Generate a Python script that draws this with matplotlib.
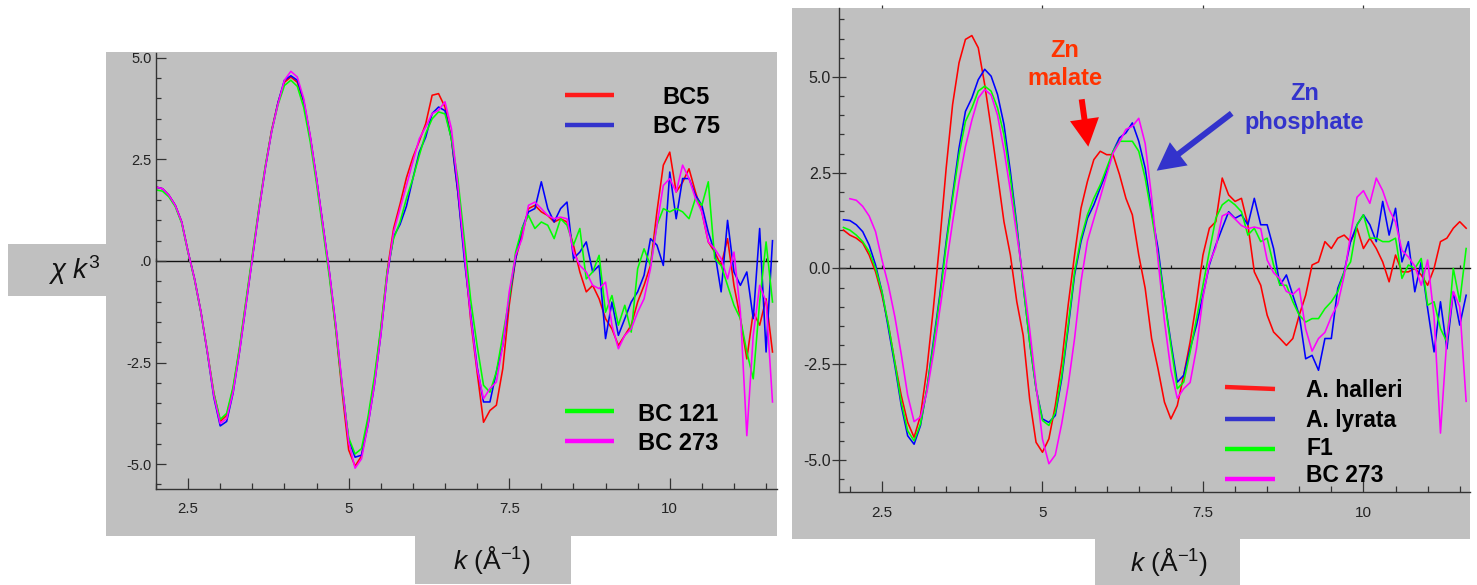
import numpy as np
import matplotlib
matplotlib.use('Agg')
import matplotlib.pyplot as plt
from matplotlib.patches import Rectangle, FancyArrowPatch
from matplotlib.lines import Line2D
from matplotlib.ticker import MultipleLocator

plt.rcParams['font.family'] = ['Liberation Sans', 'DejaVu Sans']
plt.rcParams['mathtext.fontset'] = 'custom'
plt.rcParams['mathtext.rm'] = 'Liberation Sans'
plt.rcParams['mathtext.it'] = 'Liberation Sans:italic'
plt.rcParams['mathtext.bf'] = 'Liberation Sans:bold'

# ---------------- data ----------------
k_left = np.round(np.arange(20, 117) / 10.0, 1)     # 2.0 .. 11.6
k_right = np.round(np.arange(19, 117) / 10.0, 1)    # 1.9 .. 11.6

bc273 = [
    1.82, 1.78, 1.62, 1.37, 0.96, 0.22, -0.44, -1.26, -2.24, -3.31,
    -4.00, -3.88, -3.23, -2.24, -1.09, 0.06, 1.21, 2.27, 3.18, 3.87,
    4.45, 4.67, 4.53, 4.00, 3.10, 2.03, 0.88, -0.27, -1.58, -3.06,
    -4.46, -5.10, -4.87, -4.05, -3.06, -1.83, -0.35, 0.71, 1.29, 1.86,
    2.44, 3.01, 3.30, 3.63, 3.71, 3.92, 3.26, 1.86, 0.22, -1.38,
    -2.65, -3.39, -3.14, -2.98, -2.08, -0.76, 0.14, 0.55, 1.37, 1.45,
    1.29, 1.12, 1.04, 1.08, 1.04, 0.22, -0.11, -0.27, -0.60, -0.68,
    -0.52, -1.58, -2.16, -1.83, -1.67, -1.26, -0.93, -0.19, 0.88, 1.86,
    2.03, 1.70, 2.36, 2.03, 1.54, 1.21, 0.47, 0.30, 0.06, -0.44,
    0.22, -1.26, -4.30, -1.83, -0.60, -1.00, -3.47]

bc5 = [
    1.82, 1.78, 1.62, 1.37, 0.96, 0.22, -0.44, -1.26, -2.24, -3.25,
    -3.95, -3.80, -3.15, -2.16, -1.02, 0.10, 1.25, 2.30, 3.22, 3.90,
    4.40, 4.53, 4.40, 3.92, 3.05, 2.00, 0.85, -0.32, -1.70, -3.25,
    -4.65, -5.05, -4.80, -3.95, -2.95, -1.70, -0.25, 0.80, 1.40, 2.05,
    2.55, 2.95, 3.38, 4.08, 4.12, 3.79, 3.01, 1.70, 0.22, -1.45,
    -2.73, -3.97, -3.68, -3.55, -2.65, -1.09, 0.06, 0.63, 1.29, 1.37,
    1.21, 1.12, 0.96, 1.04, 0.96, 0.39, -0.27, -0.76, -0.60, -0.93,
    -1.42, -1.67, -2.08, -1.83, -1.58, -1.01, -0.60, -0.11, 1.21, 2.36,
    2.68, 1.70, 1.94, 2.27, 1.70, 1.21, 0.47, 0.22, -0.11, 0.55,
    -0.60, -1.42, -2.41, -1.26, -1.58, -0.93, -2.24]

bc75 = [
    1.82, 1.78, 1.62, 1.37, 0.96, 0.22, -0.44, -1.26, -2.26, -3.35,
    -4.06, -3.95, -3.25, -2.24, -1.09, 0.06, 1.21, 2.27, 3.18, 3.90,
    4.45, 4.56, 4.45, 3.95, 3.08, 2.03, 0.88, -0.27, -1.60, -3.10,
    -4.40, -4.83, -4.78, -4.05, -3.06, -1.83, -0.35, 0.60, 0.90, 1.35,
    2.03, 2.68, 3.05, 3.63, 3.79, 3.70, 3.01, 1.70, 0.06, -1.30,
    -2.60, -3.47, -3.47, -2.73, -2.08, -0.93, 0.06, 0.80, 1.21, 1.29,
    1.95, 1.29, 0.96, 1.29, 1.45, 0.06, 0.22, 0.47, -0.27, -0.11,
    -1.91, -1.01, -1.83, -1.42, -1.01, -0.76, -0.35, 0.55, 0.39, -0.11,
    2.19, 1.04, 2.03, 2.03, 1.62, 1.37, 0.71, 0.22, -0.76, 1.00,
    -0.27, -0.60, -0.27, -1.42, 0.80, -2.24, 0.50]

bc121 = [
    1.75, 1.72, 1.58, 1.34, 0.93, 0.20, -0.46, -1.28, -2.24, -3.25,
    -3.90, -3.75, -3.10, -2.12, -0.98, 0.15, 1.28, 2.32, 3.20, 3.85,
    4.32, 4.45, 4.30, 3.78, 2.95, 1.90, 0.75, -0.40, -1.70, -3.15,
    -4.35, -4.75, -4.62, -3.85, -2.85, -1.65, -0.25, 0.55, 0.96, 1.54,
    2.03, 2.60, 3.14, 3.50, 3.67, 3.62, 3.01, 2.03, 0.55, -0.95,
    -2.08, -3.06, -3.23, -2.73, -1.83, -0.93, 0.22, 0.80, 1.12, 0.80,
    0.96, 0.88, 0.55, 1.04, 0.88, 0.39, 0.80, -0.44, -0.27, 0.14,
    -1.26, -0.85, -1.58, -1.09, -1.75, -0.19, 0.30, -0.11, 0.88, 1.29,
    1.21, 1.29, 1.21, 1.04, 1.54, 1.37, 1.95, 0.06, -0.11, -0.60,
    -1.09, -1.42, -2.24, -2.90, -1.01, 0.47, -1.01]

a_halleri = [
    1.00,
    0.87, 0.79, 0.66, 0.35, -0.09, -0.70, -1.48, -2.45, -3.32, -4.02,
    -4.41, -3.84, -2.62, -1.05, 0.70, 2.62, 4.28, 5.37, 5.98, 6.08,
    5.76, 4.80, 3.67, 2.45, 1.22, 0.35, -0.87, -1.75, -3.41, -4.54,
    -4.80, -4.45, -3.58, -2.45, -0.96, 0.35, 1.57, 2.27, 2.84, 3.06,
    2.97, 2.97, 2.45, 1.83, 1.40, 0.35, -0.52, -1.83, -2.62, -3.49,
    -3.93, -3.58, -2.79, -1.92, -0.87, 0.35, 1.05, 1.22, 2.36, 1.92,
    1.75, 1.83, 1.14, -0.09, -0.44, -1.22, -1.66, -1.83, -2.01, -1.83,
    -1.22, -0.70, 0.09, 0.17, 0.70, 0.52, 0.79, 0.87, 0.70, 1.05,
    0.52, 0.79, 0.52, 0.17, -0.35, 0.35, -0.09, -0.09, 0.00, -0.17,
    -0.44, 0.00, 0.70, 0.79, 1.05, 1.22, 1.05]

a_lyrata = [
    1.27,
    1.25, 1.14, 0.96, 0.61, 0.09, -0.61, -1.57, -2.53, -3.58, -4.37,
    -4.59, -4.10, -3.14, -1.92, -0.70, 0.70, 1.92, 3.14, 4.10, 4.45,
    4.93, 5.20, 5.02, 4.54, 3.76, 2.53, 1.14, -0.44, -1.92, -3.14,
    -3.93, -4.02, -3.84, -2.88, -1.57, -0.17, 0.70, 1.31, 1.66, 2.10,
    2.53, 3.06, 3.41, 3.54, 3.80, 3.32, 2.62, 1.48, 0.52, -0.79,
    -1.92, -2.97, -2.79, -2.10, -1.48, -0.70, 0.09, 0.61, 1.05, 1.48,
    1.31, 1.40, 1.14, 1.83, 1.14, 1.14, 0.52, -0.44, -0.17, -0.70,
    -1.22, -2.36, -2.27, -2.66, -1.83, -1.83, -0.52, -0.09, 0.70, 1.14,
    1.40, 1.14, 0.70, 1.75, 0.87, 1.57, 0.17, 0.70, -0.61, 0.17,
    -1.05, -2.18, -0.87, -2.10, -0.61, -1.48, -0.70]

f1 = [
    1.07,
    1.00, 0.87, 0.70, 0.44, 0.00, -0.61, -1.48, -2.45, -3.49, -4.24,
    -4.50, -4.06, -3.14, -2.01, -0.79, 0.61, 1.83, 2.97, 3.84, 4.19,
    4.63, 4.76, 4.63, 4.19, 3.49, 2.36, 1.05, -0.44, -1.92, -3.14,
    -3.97, -4.10, -3.76, -2.79, -1.48, -0.09, 0.79, 1.40, 1.83, 2.18,
    2.62, 3.06, 3.32, 3.32, 3.32, 3.06, 2.36, 1.40, 0.35, -0.79,
    -2.01, -3.14, -2.97, -2.18, -1.31, -0.44, 0.44, 1.31, 1.66, 1.79,
    1.66, 1.48, 0.87, 1.05, 0.70, 0.79, 0.09, -0.44, -0.44, -0.87,
    -1.22, -1.40, -1.31, -1.31, -1.05, -0.87, -0.61, -0.09, 0.17, 1.14,
    1.40, 0.79, 0.79, 0.70, 0.70, 0.79, -0.26, 0.09, 0.00, 0.26,
    -0.96, -0.87, -1.57, -1.92, 0.00, -0.87, 0.52]

left_labels = ['BC5', 'BC 75', 'BC 121', 'BC 273']
right_labels = ['A. halleri', 'A. lyrata', 'F1', 'BC 273']
x_ticks = [2.5, 5, 7.5, 10]
x_ticklabels = ['2.5', '5', '7.5', '10']
y_ticks = [-5.0, -2.5, 0.0, 2.5, 5.0]
y_ticklabels_left = ['-5.0', '-2.5', '.0', '2.5', '5.0']
y_ticklabels_right = ['-5.0', '-2.5', '0.0', '2.5', '5.0']

RED, BLUE, GREEN, MAG = '#ff0000', '#0000ff', '#00ff00', '#ff00ff'
LEG_COLORS = ['#ff1a1a', '#3333cc', '#00ff00', '#ff00ff']
GREY = '#c0c0c0'

# ---------------- figure ----------------
W, H = 1477, 585
fig = plt.figure(figsize=(W / 100, H / 100), dpi=100)
fig.patch.set_facecolor('white')


def fx(x):
    return x / W


def fy(y):
    return 1 - y / H


def grey_box(x0, y0, x1, y1):
    fig.add_artist(Rectangle((fx(x0), fy(y1)), fx(x1) - fx(x0), fy(y0) - fy(y1),
                             transform=fig.transFigure, facecolor=GREY,
                             edgecolor='none', zorder=-10))


grey_box(106, 52, 777, 536)      # left panel
grey_box(8, 244, 106, 296)       # y label box
grey_box(415, 536, 571, 584)     # left x label box
grey_box(792, 8, 1470, 539)      # right panel
grey_box(1095, 539, 1240, 585)   # right x label box


def style_axes(ax, xlim, ylim, ylabels, tsize_x, tsize_y, xpad, ypad, ydir):
    ax.set_xlim(*xlim)
    ax.set_ylim(*ylim)
    ax.patch.set_visible(False)
    for s in ['top', 'right']:
        ax.spines[s].set_visible(False)
    for s in ['left', 'bottom']:
        ax.spines[s].set_color('#333333')
        ax.spines[s].set_linewidth(1.0)
    ax.set_xticks(x_ticks, x_ticklabels)
    ax.set_yticks(y_ticks, ylabels)
    ax.xaxis.set_minor_locator(MultipleLocator(0.5))
    ax.yaxis.set_minor_locator(MultipleLocator(0.5))
    ax.tick_params(axis='x', which='major', direction='in', length=8, width=0.9,
                   color='#333333', labelsize=tsize_x, labelcolor='#222222', pad=xpad)
    ax.tick_params(axis='x', which='minor', direction='in', length=4, width=0.9,
                   color='#333333')
    ax.tick_params(axis='y', which='major', direction=ydir, length=(10 if ydir == 'inout' else 7),
                   width=0.9, color='#333333', labelsize=tsize_y, labelcolor='#222222', pad=ypad)
    ax.tick_params(axis='y', which='minor', direction='in', length=3.6, width=0.9,
                   color='#333333')
    # zero line with small upward ticks
    frac = (0 - ylim[0]) / (ylim[1] - ylim[0])
    sec = ax.secondary_xaxis(frac)
    sec.set_alignment('top')
    sec.xaxis.set_major_locator(MultipleLocator(0.5))
    sec.tick_params(axis='x', which='major', direction='out', length=2.5, width=0.9,
                    color='#222222', labeltop=False, labelbottom=False)
    sec.spines['top'].set_color('#111111')
    sec.spines['top'].set_linewidth(1.0)
    sec.patch.set_visible(False)
    return sec


# ---- left panel ----
ax1 = fig.add_axes([fx(156), fy(489.3), fx(777) - fx(156), fy(53) - fy(489.3)])
style_axes(ax1, (2.0, 11.67), (-5.62, 5.12), y_ticklabels_left, 10.8, 10.5, 9.0, 3, 'in')
lw = 1.15
ax1.plot(k_left, bc5, color=RED, lw=lw, label=left_labels[0])
ax1.plot(k_left, bc75, color=BLUE, lw=lw, label=left_labels[1])
ax1.plot(k_left, bc121, color=GREEN, lw=lw, label=left_labels[2])
ax1.plot(k_left, bc273, color=MAG, lw=lw, label=left_labels[3])

# ---- right panel ----
ax2 = fig.add_axes([fx(839.3), fy(491.7), fx(1470) - fx(839.3), fy(8) - fy(491.7)])
style_axes(ax2, (1.835, 11.66), (-5.83, 6.80), y_ticklabels_right, 11, 11.5, 10.3, 1, 'inout')
ax2.plot(k_right, a_halleri, color=RED, lw=lw, label=right_labels[0])
ax2.plot(k_right, a_lyrata, color=BLUE, lw=lw, label=right_labels[1])
ax2.plot(k_right, f1, color=GREEN, lw=lw, label=right_labels[2])
ax2.plot(k_left, bc273, color=MAG, lw=lw, label=right_labels[3])

topax = ax2.secondary_xaxis('top')
topax.set_xticks(x_ticks)
topax.tick_params(axis='x', direction='out', length=2.5, width=0.9, color='#333333',
                  labeltop=False)
topax.spines['top'].set_visible(False)

# ---- legends (manual, matching the slide layout) ----
def leg_line(x0, x1, y0, y1, color):
    fig.add_artist(Line2D([fx(x0), fx(x1)], [fy(y0), fy(y1)], transform=fig.transFigure,
                          color=color, lw=3.2, solid_capstyle='butt'))


leg_line(565, 614, 95, 95, LEG_COLORS[0])
leg_line(565, 614, 125, 125, LEG_COLORS[1])
leg_line(565, 614, 411, 411, LEG_COLORS[2])
leg_line(565, 614, 441, 441, LEG_COLORS[3])
fig.text(fx(686), fy(104.3), left_labels[0], ha='center', va='baseline', fontsize=17, fontweight='bold')
fig.text(fx(686.5), fy(132.7), left_labels[1], ha='center', va='baseline', fontsize=17, fontweight='bold')
fig.text(fx(638), fy(420.7), left_labels[2], ha='left', va='baseline', fontsize=17, fontweight='bold')
fig.text(fx(638), fy(449.5), left_labels[3], ha='left', va='baseline', fontsize=17, fontweight='bold')

leg_line(1225, 1275, 387, 389, LEG_COLORS[0])
leg_line(1225, 1275, 419, 419, LEG_COLORS[1])
leg_line(1225, 1275, 449, 449, LEG_COLORS[2])
leg_line(1225, 1275, 479, 479, LEG_COLORS[3])
for lab, yb in zip(right_labels, [396.7, 426.7, 455.0, 481.7]):
    fig.text(fx(1306), fy(yb), lab, ha='left', va='baseline', fontsize=16.5, fontweight='bold')

# ---- axis labels ----
fig.text(fx(74), fy(270), r'$\chi\ k^3$', ha='center', va='center', fontsize=20, color='#111111')
fig.text(fx(492.5), fy(560), r'$k$ (Å$^{-1}$)', ha='center', va='center', fontsize=19, color='#111111')
fig.text(fx(1169), fy(562), r'$k$ (Å$^{-1}$)', ha='center', va='center', fontsize=19, color='#111111')

# ---- annotations ----
MAL = '#ff3300'
PHO = '#3333cc'
fig.text(fx(1065), fy(56.7), 'Zn', ha='center', va='baseline', fontsize=17, fontweight='bold', color=MAL)
fig.text(fx(1065), fy(85), 'malate', ha='center', va='baseline', fontsize=17, fontweight='bold', color=MAL)
fig.text(fx(1305), fy(100), 'Zn', ha='center', va='baseline', fontsize=17, fontweight='bold', color=PHO)
fig.text(fx(1304.5), fy(129.3), 'phosphate', ha='center', va='baseline', fontsize=17, fontweight='bold', color=PHO)

arrow_style = 'simple,head_length=20,head_width=21,tail_width=4.3'
fig.add_artist(FancyArrowPatch(
    (fx(1081.7), fy(99.3)), (fx(1088.3), fy(146.7)), transform=fig.transFigure,
    arrowstyle=arrow_style, mutation_scale=1, color='#ff0000', lw=0, shrinkA=0, shrinkB=0))
fig.add_artist(FancyArrowPatch(
    (fx(1231.7), fy(113.3)), (fx(1156.7), fy(170.7)), transform=fig.transFigure,
    arrowstyle=arrow_style, mutation_scale=1, color=PHO, lw=0, shrinkA=0, shrinkB=0))

fig.savefig('out.png', dpi=100, facecolor='white')
